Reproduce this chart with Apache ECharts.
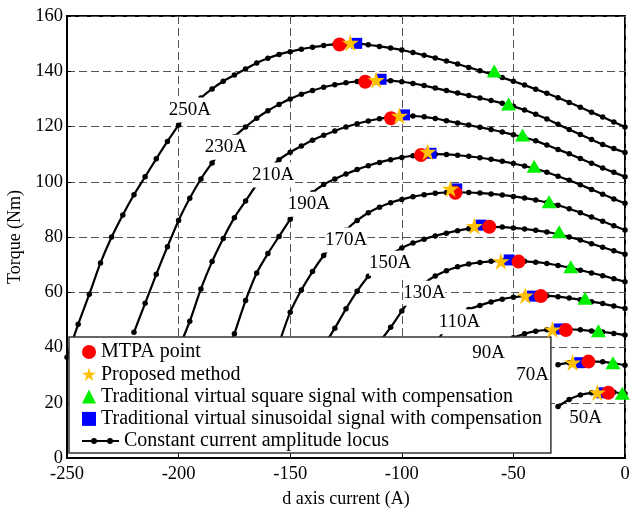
<!DOCTYPE html>
<html><head><meta charset="utf-8">
<script src="https://cdn.jsdelivr.net/npm/echarts@6/dist/echarts.min.js"></script>
<style>html,body{margin:0;padding:0;background:#fff}#c{width:635px;height:508px}</style>
</head><body><div id="c"></div>
<script>
// ---- axes ----
const xMin = -250, xMax = 0, xStep = 50;
const yMin = 0, yMax = 160, yStep = 20;
const xName = 'd axis current (A)';
const yName = 'Torque (Nm)';

// ---- constant current amplitude loci: [id (A), torque (Nm)] ----
const currentLabels = ['250A','230A','210A','190A','170A','150A','130A','110A','90A','70A','50A'];
const labelAnchor = [[-194.9,126],[-178.8,112.5],[-157.7,102.4],[-141.6,91.9],[-124.9,78.9],[-105.2,70.5],[-89.9,59.6],[-74.2,49.3],[-61.1,37.9],[-41.4,30],[-17.6,14.4]];

const locus250 = [[-250,36.5],[-245,48.4],[-240,59.3],[-235,70.6],[-230,80],[-225,88],[-220,95.3],[-215,101.8],[-210,108.3],[-205,114.6],[-200,120.5],[-195,125.6],[-190,130.3],[-185,133.6],[-180,136.4],[-175,138.6],[-170,140.8],[-165,143],[-160,144.7],[-155,146.1],[-150,147.1],[-145,148],[-140,148.7],[-135,149.3],[-130,149.7],[-125,150],[-120,150],[-115,149.6],[-110,149],[-105,148.4],[-100,147.7],[-95,146.8],[-90,145.8],[-85,144.8],[-80,143.7],[-75,142.6],[-70,141.4],[-65,140.2],[-60,139],[-55,137.7],[-50,136.4],[-45,135],[-40,133.5],[-35,132],[-30,130.4],[-25,128.7],[-20,127],[-15,125.2],[-10,123.4],[-5,121.6],[0,119.8]];
const locus230 = [[-220,45.5],[-215,56],[-210,66.5],[-205,76.5],[-200,86],[-195,94],[-190,101],[-185,106.8],[-180,111.8],[-175,116.3],[-170,119.8],[-165,123],[-160,125.7],[-155,128],[-150,130],[-145,131.7],[-140,133],[-135,134.2],[-130,135.1],[-125,135.8],[-120,136.3],[-115,136.6],[-110,136.7],[-105,136.6],[-100,136.2],[-95,135.6],[-90,134.8],[-85,133.9],[-80,133],[-75,132.1],[-70,131.2],[-65,130.3],[-60,129.4],[-55,128.4],[-50,127.3],[-45,126],[-40,124.4],[-35,122.7],[-30,120.8],[-25,118.9],[-20,117.1],[-15,115.3],[-10,113.5],[-5,112],[0,110.6]];
const locus210 = [[-200,39.5],[-195,49.5],[-190,61.2],[-185,71.1],[-180,79.5],[-175,87],[-170,93],[-165,99],[-160,104],[-155,108],[-150,110.7],[-145,112.9],[-140,115],[-135,116.8],[-130,118.4],[-125,119.8],[-120,121],[-115,122],[-110,122.8],[-105,123.4],[-100,123.7],[-95,123.8],[-90,123.5],[-85,122.9],[-80,122.1],[-75,121.3],[-70,120.5],[-65,119.7],[-60,118.9],[-55,118],[-50,117],[-45,116],[-40,114.8],[-35,113.3],[-30,111.7],[-25,110.1],[-20,108.4],[-15,106.7],[-10,105],[-5,103.4],[0,101.8]];
const locus190 = [[-180,33],[-175,45],[-170,57],[-165,67],[-160,74],[-155,80.2],[-150,86.4],[-145,91.6],[-140,96],[-135,99],[-130,101],[-125,102.8],[-120,104.4],[-115,105.8],[-110,107],[-105,108],[-100,108.8],[-95,109.4],[-90,109.8],[-85,110],[-80,109.9],[-75,109.6],[-70,109.2],[-65,108.7],[-60,108.1],[-55,107.4],[-50,106.6],[-45,105.7],[-40,104.7],[-35,103.4],[-30,102],[-25,100.5],[-20,98.9],[-15,97.2],[-10,95.5],[-5,93.8],[0,92.2]];
const locus170 = [[-155,41.5],[-150,52.8],[-145,60.8],[-140,67.5],[-135,73.3],[-130,78.2],[-125,82.5],[-120,86],[-115,88.8],[-110,90.8],[-105,92.4],[-100,93.6],[-95,94.6],[-90,95.3],[-85,95.8],[-80,96.1],[-75,96.2],[-70,96.1],[-65,95.9],[-60,95.6],[-55,95.2],[-50,94.7],[-45,94.1],[-40,93.4],[-35,92.5],[-30,91.5],[-25,90.2],[-20,88.8],[-15,87.2],[-10,85.7],[-5,84.1],[0,82.5]];
const locus150 = [[-135,40.5],[-130,47],[-125,54],[-120,60.4],[-115,65.8],[-110,70],[-105,73.5],[-100,76],[-95,77.8],[-90,79.2],[-85,80.4],[-80,81.4],[-75,82.3],[-70,83],[-65,83.5],[-60,83.7],[-55,83.6],[-50,83.3],[-45,82.9],[-40,82.4],[-35,81.8],[-30,81],[-25,80],[-20,78.9],[-15,77.6],[-10,76.3],[-5,75],[0,73.8]];
const locus130 = [[-110,42],[-105,47.3],[-100,53.2],[-95,58.8],[-90,63.2],[-85,65.9],[-80,67.8],[-75,69.2],[-70,70.2],[-65,70.8],[-60,71.2],[-55,71.4],[-50,71.4],[-45,71.2],[-40,70.9],[-35,70.4],[-30,69.7],[-25,68.9],[-20,68],[-15,67],[-10,66],[-5,64.9],[0,63.8]];
const locus110 = [[-85,41.5],[-80,47],[-75,51.2],[-70,53.8],[-65,55.2],[-60,56.5],[-55,57.5],[-50,58.2],[-45,58.6],[-40,58.8],[-35,58.7],[-30,58.4],[-25,57.9],[-20,57.3],[-15,56.6],[-10,55.9],[-5,55],[0,54.1]];
const locus90 = [[-55,41],[-50,43.5],[-45,45],[-40,45.9],[-35,46.4],[-30,46.6],[-25,46.6],[-20,46.4],[-15,46],[-10,45.6],[-5,45.1],[0,44.5]];
const locus70 = [[-30,33.8],[-25,34.5],[-20,34.9],[-15,35],[-10,34.8],[-5,34.3],[0,33.6]];
const locus50 = [[-30,18.6],[-25,21.2],[-20,22.8],[-15,23.6],[-10,24],[-5,23.8],[0,23.3]];
const loci = [locus250, locus230, locus210, locus190, locus170, locus150, locus130, locus110, locus90, locus70, locus50];

// ---- operating points found by each method (250A ... 50A) ----
const mtpaPoints = [[-127.9,149.7],[-116.4,136.2],[-104.8,123],[-91.4,109.7],[-76,96],[-60.8,83.7],[-47.7,71.1],[-37.7,58.6],[-26.5,46.3],[-16.4,34.9],[-7.5,23.6]];
const proposedPoints = [[-123.1,150.3],[-111.5,136.8],[-101.1,123.9],[-88.4,110.9],[-78.2,97.5],[-67.5,84],[-55.6,71.2],[-44.7,58.8],[-32.5,46.5],[-23.5,34.6],[-12.4,23.7]];
const squareSignalPoints = [[-58.6,140.1],[-52.2,128.1],[-45.9,116.9],[-40.7,105.6],[-34,92.8],[-29.5,81.9],[-24.3,69.2],[-17.9,57.8],[-11.9,46.1],[-5.4,34.5],[-1.2,23.4]];
const sineSignalPoints = [[-120.2,150.1],[-109.3,137.1],[-98.8,124.2],[-86.9,110.3],[-75.4,97.4],[-64.5,84.3],[-51.9,71.7],[-41.4,58.6],[-29.5,46.7],[-20.3,34.5],[-10.3,23.6]];

const N_MTPA = 'MTPA point';
const N_PROP = 'Proposed method';
const N_SQ = 'Traditional virtual square signal with compensation';
const N_SIN = 'Traditional virtual sinusoidal signal with compensation';
const N_LOC = 'Constant current amplitude locus';

const FONT = "'Liberation Serif', 'Times New Roman', serif";
const STAR = 'path://M12,0 L14.7,8.29 L23.41,8.29 L16.37,13.42 L19.05,21.71 L12,16.59 L4.95,21.71 L7.63,13.42 L0.59,8.29 L9.3,8.29 Z';
const LINE_ICON = 'path://M0,2.1H37V3.9H0Z M9,3a3,3 0 1,1 6,0a3,3 0 1,1 -6,0Z M25,3a3,3 0 1,1 6,0a3,3 0 1,1 -6,0Z';

const series = [];
loci.forEach(function (d) {
  series.push({
    type: 'line', name: N_LOC, data: d, smooth: 0.25,
    symbol: 'circle', symbolSize: 5.5, showSymbol: true,
    itemStyle: { color: '#000', opacity: 1 }, lineStyle: { color: '#000', width: 2.2 },
    z: 2, silent: true, animation: false
  });
});
series.push({ type: 'scatter', name: N_SIN, data: sineSignalPoints, symbol: 'rect', symbolSize: 11, itemStyle: { color: '#0000FF', opacity: 1 }, z: 3, animation: false });
series.push({ type: 'scatter', name: N_MTPA, data: mtpaPoints, symbol: 'circle', symbolSize: 14, itemStyle: { color: '#FF0000', opacity: 1 }, z: 4, animation: false });
series.push({ type: 'scatter', name: N_PROP, data: proposedPoints, symbol: STAR, symbolSize: 17, itemStyle: { color: '#FFC000', opacity: 1 }, z: 5, animation: false });
series.push({ type: 'scatter', name: N_SQ, data: squareSignalPoints, symbol: 'triangle', symbolSize: [15, 13], itemStyle: { color: '#00F000', opacity: 1 }, z: 4, animation: false });
series.push({
  type: 'scatter', name: 'labels',
  data: labelAnchor.map(function (p, i) { return { value: p, name: currentLabels[i] }; }),
  symbolSize: 1, itemStyle: { color: '#fff', opacity: 1 },
  label: { show: true, position: 'inside', formatter: '{b}', fontFamily: FONT, fontSize: 19, color: '#000', opacity: 1, textBorderWidth: 0, backgroundColor: '#fff', padding: [3, 0] },
  z: 20, silent: true, animation: false
});

const axisLbl = { fontFamily: FONT, fontSize: 18.5, color: '#000' };
const chart = echarts.init(document.getElementById('c'), null, { renderer: 'canvas' });
chart.setOption({
  animation: false,
  backgroundColor: '#fff',
  grid: { left: 67, right: 10, top: 16, bottom: 50, containLabel: false, outerBoundsMode: 'none', show: true, borderColor: '#000', borderWidth: 2, backgroundColor: 'transparent' },
  xAxis: {
    type: 'value', min: xMin, max: xMax, interval: xStep,
    name: xName, nameLocation: 'middle', nameGap: 32,
    nameTextStyle: { fontFamily: FONT, fontSize: 18, color: '#000' },
    axisLine: { show: true, onZero: false, lineStyle: { color: '#000', width: 2 } },
    axisTick: { show: true, inside: true, length: 4, lineStyle: { color: '#000', width: 1 } },
    axisLabel: Object.assign({ margin: 7 }, axisLbl),
    splitLine: { show: true, lineStyle: { color: '#555', width: 1, type: [8, 4] } }
  },
  yAxis: {
    type: 'value', min: yMin, max: yMax, interval: yStep,
    name: yName, nameLocation: 'middle', nameGap: 25, nameRotate: 90,
    nameTextStyle: { fontFamily: FONT, fontSize: 18, color: '#000' },
    axisLine: { show: true, onZero: false, lineStyle: { color: '#000', width: 2 } },
    axisTick: { show: true, inside: true, length: 4, lineStyle: { color: '#000', width: 1 } },
    axisLabel: Object.assign({ margin: 4 }, axisLbl),
    splitLine: { show: true, lineStyle: { color: '#555', width: 1, type: [8, 4] } }
  },
  legend: [
    {
      data: [{ name: N_MTPA }, { name: N_PROP }, { name: N_SQ }, { name: N_SIN }],
      orient: 'vertical', left: 69, top: 337, padding: [5, 9, 24, 13],
      itemWidth: 14, itemHeight: 14, itemGap: 2.3,
      backgroundColor: '#fff', borderColor: '#333', borderWidth: 1.5, borderRadius: 0,
      selectedMode: false, textStyle: { fontFamily: FONT, fontSize: 20, color: '#000' }, z: 4
    },
    {
      data: [{ name: N_LOC, icon: LINE_ICON }],
      orient: 'vertical', left: 82, top: 431, padding: 0,
      itemWidth: 37, itemHeight: 6, itemStyle: { color: '#000', borderWidth: 0 },
      selectedMode: false, textStyle: { fontFamily: FONT, fontSize: 20, color: '#000' }, z: 6
    }
  ],
  series: series
});
</script>
</body></html>
